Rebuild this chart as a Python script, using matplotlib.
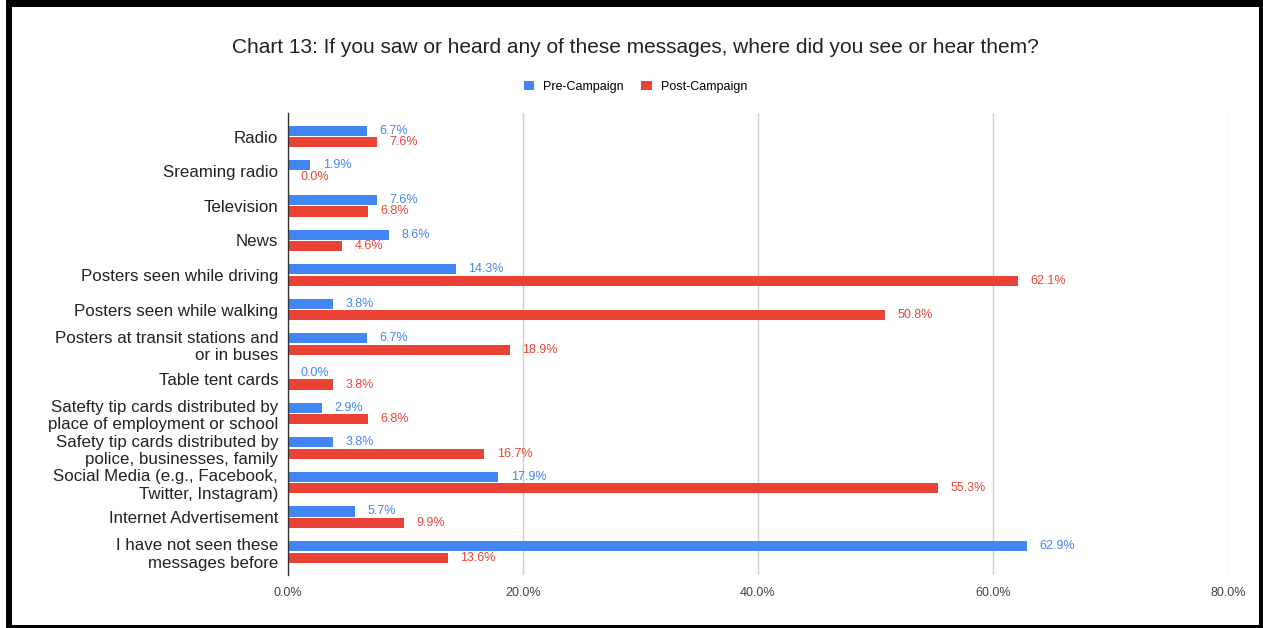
import numpy as np
import matplotlib
matplotlib.use("Agg")
import matplotlib.pyplot as plt
from matplotlib.patches import Rectangle
from matplotlib.ticker import FuncFormatter

plt.rcParams['font.family'] = ['Liberation Sans', 'DejaVu Sans']

categories = [
    "Radio",
    "Sreaming radio",
    "Television",
    "News",
    "Posters seen while driving",
    "Posters seen while walking",
    "Posters at transit stations and\nor in buses",
    "Table tent cards",
    "Satefty tip cards distributed by\nplace of employment or school",
    "Safety tip cards distributed by\npolice, businesses, family",
    "Social Media (e.g., Facebook,\nTwitter, Instagram)",
    "Internet Advertisement",
    "I have not seen these\nmessages before",
]
pre_campaign = [6.7, 1.9, 7.6, 8.6, 14.3, 3.8, 6.7, 0.0, 2.9, 3.8, 17.9, 5.7, 62.9]
post_campaign = [7.6, 0.0, 6.8, 4.6, 62.1, 50.8, 18.9, 3.8, 6.8, 16.7, 55.3, 9.9, 13.6]
x_ticks = [0, 20, 40, 60, 80]

blue = "#4285F4"
red = "#EA4335"

fig = plt.figure(figsize=(12.63, 6.28), dpi=100)
ax = fig.add_axes([0.228, 0.0844, 0.7443, 0.7356])

y = np.arange(len(categories))
h = 0.29
off = 0.165
ax.barh(y - off, pre_campaign, height=h, color=blue, label="Pre-Campaign", zorder=3)
ax.barh(y + off, post_campaign, height=h, color=red, label="Post-Campaign", zorder=3)

for i in range(len(categories)):
    ax.annotate(f"{pre_campaign[i]:.1f}%", (pre_campaign[i], y[i] - off),
                xytext=(9, 0), textcoords="offset points", va="center", ha="left",
                fontsize=9, color=blue)
    ax.annotate(f"{post_campaign[i]:.1f}%", (post_campaign[i], y[i] + off),
                xytext=(9, 0), textcoords="offset points", va="center", ha="left",
                fontsize=9, color=red)

ax.set_xlim(0, 80)
ax.set_ylim(len(categories) - 1 + 0.67, -0.68)
ax.set_xticks(x_ticks)
ax.xaxis.set_major_formatter(FuncFormatter(lambda v, p: f"{v:.1f}%"))
ax.set_yticks(y)
ax.set_yticklabels(categories, fontsize=12.2, color="#222222")
ax.tick_params(axis="both", length=0)
ax.tick_params(axis="y", pad=7)
ax.tick_params(axis="x", pad=9, labelsize=9, labelcolor="#444444")

ax.grid(axis="x", color="#d0d0d0", linewidth=1, zorder=0)
for s in ["top", "right", "bottom"]:
    ax.spines[s].set_visible(False)
ax.spines["left"].set_color("#333333")
ax.spines["left"].set_linewidth(1)
ax.spines["left"].set_zorder(4)

fig.text(0.503, 0.924, "Chart 13: If you saw or heard any of these messages, where did you see or hear them?",
         ha="center", va="center", fontsize=15, color="#222222")

fig.legend(loc="center", bbox_to_anchor=(0.503, 0.862), ncol=2, frameon=False,
           handlelength=0.85, handleheight=0.85, columnspacing=1.4,
           handletextpad=0.7, prop={"size": 9})

# black frame round the figure
W, H = 1263, 628
for (x0, y0, w, hh) in [(6, 0, W - 6, 7), (6, 0, 6, H), (W - 4, 0, 4, H), (6, H - 3, W - 6, 3)]:
    fig.add_artist(Rectangle((x0 / W, 1 - (y0 + hh) / H), w / W, hh / H,
                             transform=fig.transFigure, facecolor="black",
                             linewidth=0, zorder=10))

fig.savefig("out.png", dpi=100)
